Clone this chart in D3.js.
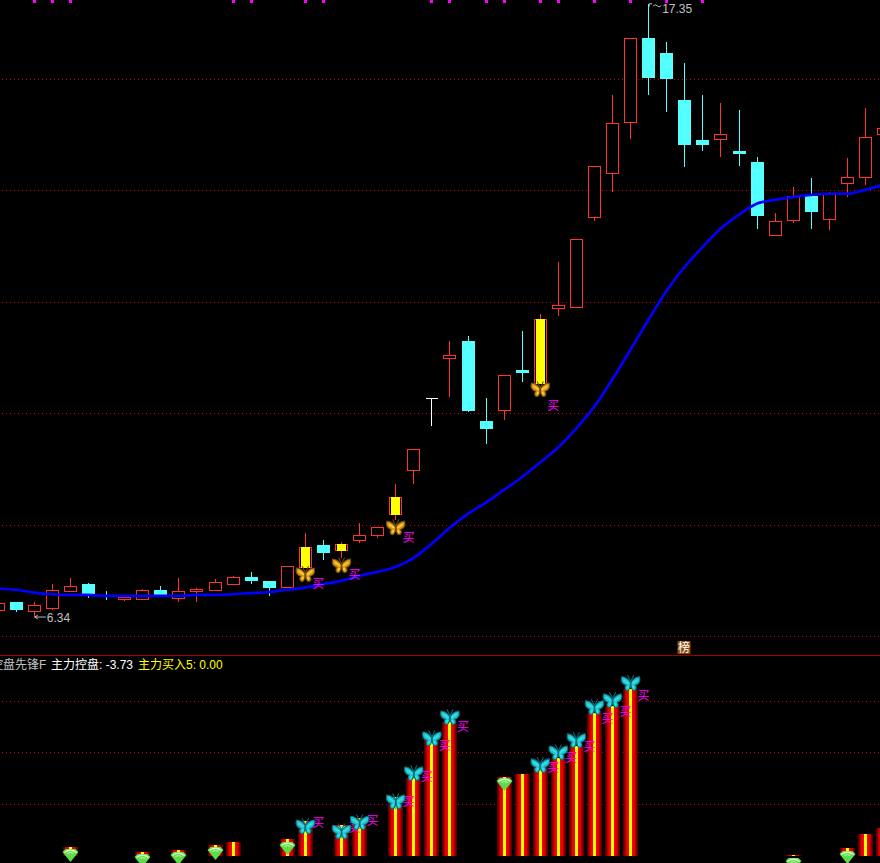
<!DOCTYPE html>
<html>
<head>
<meta charset="utf-8">
<script src="https://cdnjs.cloudflare.com/ajax/libs/d3/7.8.5/d3.min.js"></script>
<style>
html,body{margin:0;padding:0;background:#000;overflow:hidden}
svg{display:block}
text{font-family:"Liberation Sans","Noto Sans CJK SC",sans-serif;font-size:12px}
</style>
</head>
<body>
<svg id="c" width="880" height="863"></svg>
<script>
// candle data (price)
const opens  = [6.47,6.61,6.45,6.50,6.81,6.93,6.74,6.66,6.66,6.83,6.68,6.81,6.83,6.93,7.06,6.99,6.88,7.24,7.63,7.54,7.72,7.81,8.19,8.98,10.27,10.99,11.30,9.86,10.06,10.78,10.54,11.89,11.91,13.52,14.31,15.23,16.74,16.47,15.62,14.90,14.92,14.71,14.51,13.20,13.47,13.90,13.49,14.13,14.24,15.01];
const closes = [6.59,6.47,6.56,6.83,6.90,6.75,6.70,6.70,6.83,6.74,6.81,6.84,6.97,7.06,6.99,6.86,7.26,7.60,7.49,7.65,7.81,7.96,8.50,9.36,10.27,11.04,10.04,9.72,10.69,10.72,11.69,11.94,13.13,14.44,15.21,16.74,16.02,16.00,14.82,14.82,15.01,14.65,13.54,13.45,13.90,13.61,13.95,14.24,14.96,15.12];
const highs  = [6.59,6.61,6.61,6.93,7.04,6.95,6.81,6.70,6.84,6.90,7.04,6.86,7.02,7.08,7.15,6.99,7.26,7.85,7.72,7.69,8.03,7.96,8.73,9.36,10.27,11.30,11.39,10.27,10.69,11.48,11.78,12.71,13.13,14.44,15.71,16.74,17.35,16.66,16.29,15.71,15.57,15.44,14.60,13.59,14.06,14.22,13.97,14.58,15.48,15.12];
const lows   = [6.47,6.43,6.34,6.47,6.81,6.68,6.65,6.63,6.66,6.74,6.61,6.61,6.81,6.93,6.93,6.72,6.88,7.24,7.36,7.40,7.67,7.76,8.08,8.73,9.77,10.29,10.02,9.45,9.88,10.56,10.54,11.75,11.91,13.45,13.97,14.92,15.71,15.41,14.42,14.71,14.60,14.44,13.31,13.20,13.41,13.31,13.29,13.88,14.10,15.01];
const maLine = [6.85,6.83,6.78,6.75,6.74,6.74,6.72,6.72,6.72,6.72,6.72,6.74,6.74,6.75,6.77,6.79,6.83,6.87,6.93,6.99,7.08,7.15,7.24,7.40,7.65,7.94,8.19,8.39,8.62,8.85,9.11,9.38,9.72,10.11,10.60,11.13,11.67,12.19,12.62,12.98,13.31,13.56,13.76,13.83,13.88,13.92,13.94,13.94,14.01,14.10];
const yellowCandles = [17,19,22,30];
const topFlags = [2,3,4,13,14,17,18,24,25,27,28,30,31,33,35,37,39];
const goldIdx = [17,19,22,30];
const goldPrice = [7.10,7.26,7.94,10.42];
const buyTopIdx = [17,19,22,30];
const buyTopPrice = [6.95,7.10,7.76,10.13];
const rankIdx = [38];
const rankLabel = "榜";
const gridPrices = [16,14,12,10,8,6];
const lowLabel = "6.34";
const highLabel = "17.35";
const lowIndex = 2, highIndex = 36;

// lower panel
const barIdx  = [4,8,10,12,13,16,17,19,20,22,23,24,25,28,29,30,31,32,33,34,35,44,47,48,49];
const barVals = [3.3,1.4,2.1,4.1,5.2,6.4,13.4,11.8,14.6,20.4,30.1,44.9,51.8,30.5,31.7,34.4,37.9,42.5,55.3,58.1,64.7,0.2,2.9,8.3,10.7];
const diamondIdx  = [4,8,10,12,16,19,22,28,44,47];
const diamondVals = [2.5,0.6,1.4,3.3,5.2,11.4,22.7,30.0,-1.0,1.7];
const butterflyIdx  = [17,19,20,22,23,24,25,30,31,32,33,34,35];
const butterflyVals = [11.1,9.1,12.6,20.8,31.7,45.2,53.4,34.8,39.8,44.5,57.3,60.0,66.6];
const buyLowVals    = [12.6,10.7,13.4,20.8,30.5,42.5,49.9,34.0,37.9,42.1,53.0,55.7,61.9];
const gridVals = [20,40,60];
const headerName = "控盘先锋F";
const headerA = "主力控盘: -3.73";
const headerB = "主力买入5: 0.00";

const RED="#ff3232", CYAN="#54ffff", MAG="#ff00ff", GRID="#cc0000";
const svg = d3.select("#c");
svg.append("rect").attr("width",880).attr("height",863).attr("fill","#000");

const x = d3.scaleLinear().domain([0,49]).range([-2.3,883.1]);
const y = d3.scaleLinear().domain([6,16]).range([636,79]);
const yl = d3.scaleLinear().domain([0,60]).range([855.5,700.7]);
const px = v => Math.round(x(v));
const py = v => Math.round(y(v));

// gradient for bars
const defs = svg.append("defs");
const g = defs.append("linearGradient").attr("id","bar").attr("x1",0).attr("x2",1).attr("y1",0).attr("y2",0);
[[0,"#400000"],[.1,"#800000"],[.2,"#d00000"],[.38,"#ff0000"],[.38,"#ffff00"],[.62,"#ffff00"],[.62,"#ff0000"],[.8,"#d00000"],[.9,"#800000"],[1,"#400000"]]
  .forEach(s=>g.append("stop").attr("offset",s[0]).attr("stop-color",s[1]));

// grids
function grid(vals, scale){
  svg.append("g").selectAll("line").data(vals).join("line")
    .attr("x1",2).attr("x2",880)
    .attr("y1",d=>Math.round(scale(d))+.5).attr("y2",d=>Math.round(scale(d))+.5)
    .attr("stroke",GRID).attr("stroke-dasharray","1 3").attr("shape-rendering","crispEdges");
}
grid(gridPrices,y); grid(gridVals,yl);

svg.append("line").attr("x1",0).attr("x2",880).attr("y1",655.5).attr("y2",655.5)
  .attr("stroke","#a00000").attr("shape-rendering","crispEdges");

// flags along the top
svg.append("g").selectAll("rect").data(topFlags).join("rect")
  .attr("x",d=>px(d)-1).attr("y",0).attr("width",3).attr("height",3).attr("fill",MAG);

// candles
const idx = d3.range(opens.length);
const cg = svg.append("g").attr("shape-rendering","crispEdges");
idx.forEach(i=>{
  const o=opens[i],c=closes[i];
  const col = o===c ? "#ffffff" : (c>o ? RED : CYAN);
  const cx = px(i)+.5;
  const top=py(Math.max(o,c)), bot=py(Math.min(o,c));
  if(py(highs[i])<top) cg.append("line").attr("x1",cx).attr("x2",cx).attr("y1",py(highs[i])).attr("y2",top).attr("stroke",col);
  if(py(lows[i])>bot) cg.append("line").attr("x1",cx).attr("x2",cx).attr("y1",bot).attr("y2",py(lows[i])).attr("stroke",col);
  if(c>o){
    cg.append("rect").attr("x",cx-6).attr("y",top+.5).attr("width",12).attr("height",Math.max(1,bot-top))
      .attr("fill","#000").attr("stroke",col);
    if(yellowCandles.includes(i))
      cg.append("rect").attr("x",cx-4.5).attr("y",top).attr("width",9).attr("height",bot-top+1).attr("fill","#ffff00");
  } else if(c<o){
    cg.append("rect").attr("x",cx-6.5).attr("y",top).attr("width",13).attr("height",Math.max(2,bot-top)).attr("fill",col);
  } else {
    cg.append("line").attr("x1",cx-6).attr("x2",cx+6).attr("y1",top+.5).attr("y2",top+.5).attr("stroke",col);
  }
});

// moving average
svg.append("path").datum(maLine)
  .attr("fill","none").attr("stroke","#0000ff").attr("stroke-width",2.7).attr("stroke-linejoin","round")
  .attr("d",d3.line().curve(d3.curveMonotoneX).x((d,i)=>x(i)).y(d=>y(d)));

// hi/lo labels
const LBL="#c0c0c0";
svg.append("path").attr("fill","none").attr("stroke",LBL)
  .attr("d",`M${x(lowIndex)+1},${y(6.34)}L${x(lowIndex)+12},${y(6.34)}M${x(lowIndex)+1},${y(6.34)}l3,-2M${x(lowIndex)+1},${y(6.34)}l3,2`);
svg.append("text").text(lowLabel).attr("x",x(lowIndex)+13).attr("y",y(6.34)+5).attr("fill",LBL);
svg.append("path").attr("fill","none").attr("stroke",LBL)
  .attr("d",`M${x(highIndex)+1},${y(17.35)+3}l0,-3l3,0M${x(highIndex)+5},${y(17.35)+2}q2,-2 4,0t4,0`);
svg.append("text").text(highLabel).attr("x",x(highIndex)+14).attr("y",y(17.35)+9.5).attr("fill",LBL);

// rank badge
rankIdx.forEach(i=>{
  const cx=px(i)+.5;
  svg.append("rect").attr("x",cx-7).attr("y",641).attr("width",13).attr("height",13).attr("fill","#8a4b0c");
  svg.append("text").text(rankLabel).attr("x",cx-.5).attr("y",652).attr("text-anchor","middle").attr("fill","#fff");
});

// lower panel bars
svg.append("g").attr("shape-rendering","crispEdges").selectAll("rect").data(barIdx).join("rect")
  .attr("x",d=>px(d)-7).attr("width",15)
  .attr("y",(d,i)=>Math.round(yl(barVals[i])))
  .attr("height",(d,i)=>Math.max(1,856-Math.round(yl(barVals[i]))))
  .attr("fill","url(#bar)");

// symbols
function butterfly(sel,cx,cy,fill,edge,inner){
  const G=sel.append("g").attr("transform",`translate(${cx},${cy}) scale(1.05)`);
  const wing="M0,-1 C-2,-4 -5,-6.5 -8.5,-6.5 C-9.5,-3 -8.5,0.5 -4.5,1.5 C-6,3.5 -5.5,6.5 -3,6.5 C-1,6.5 -.5,3 0,1 Z";
  [1,-1].forEach(s=>{
    const W=G.append("g").attr("transform",`scale(${s},1)`);
    W.append("path").attr("d",wing).attr("fill",fill).attr("stroke",edge).attr("stroke-width",1);
    W.append("path").attr("d","M-1.5,0 L-6.5,-3.5 M-2,2 L-3,4.5").attr("stroke",inner).attr("stroke-width",1.6).attr("fill","none");
    W.append("path").attr("d","M0,-2 L-3,-8").attr("stroke",edge).attr("fill","none");
  });
  G.append("line").attr("x1",0).attr("x2",0).attr("y1",-3).attr("y2",4).attr("stroke",edge).attr("stroke-width",1.4);
}
function diamond(sel,cx,top){
  const G=sel.append("g").attr("transform",`translate(${cx},${top})`);
  G.append("path").attr("d","M-5,0 L5,0 L8,3 L0,13 L-8,3 Z").attr("fill","#5cdc48");
  G.append("path").attr("d","M-6,3.5 Q0,-1 6,3.5").attr("fill","none").attr("stroke","#d8ffd0").attr("stroke-width",1.4);
  G.append("path").attr("d","M-3,4.5 Q0,2.5 3,4.5").attr("fill","none").attr("stroke","#c8f8b8");
}
function buy(sel,cx,cy){
  sel.append("text").text("买").attr("x",cx).attr("y",cy+4.5).attr("text-anchor","middle").attr("fill",MAG);
}

const sym = svg.append("g");
diamondIdx.forEach((i,k)=>diamond(sym,px(i)+.5,Math.round(yl(diamondVals[k]))));
butterflyIdx.forEach((i,k)=>buy(sym,x(i)+13.5,yl(buyLowVals[k])));
butterflyIdx.forEach((i,k)=>butterfly(sym,x(i)+.5,yl(butterflyVals[k]),"#22c4d0","#0a6c78","#38e0e8"));
goldIdx.forEach((i,k)=>butterfly(sym,x(i)+.5,y(goldPrice[k]),"#d89818","#6e4610","#ffd030"));
buyTopIdx.forEach((i,k)=>buy(sym,x(i)+13.5,y(buyTopPrice[k])));

// header
svg.append("text").text(headerName).attr("x",-9).attr("y",668.5).attr("fill","#c0c0c0");
svg.append("text").text(headerA).attr("x",51).attr("y",668.5).attr("fill","#ffffff");
svg.append("text").text(headerB).attr("x",138).attr("y",668.5).attr("fill","#ffff00");
</script>
</body>
</html>
